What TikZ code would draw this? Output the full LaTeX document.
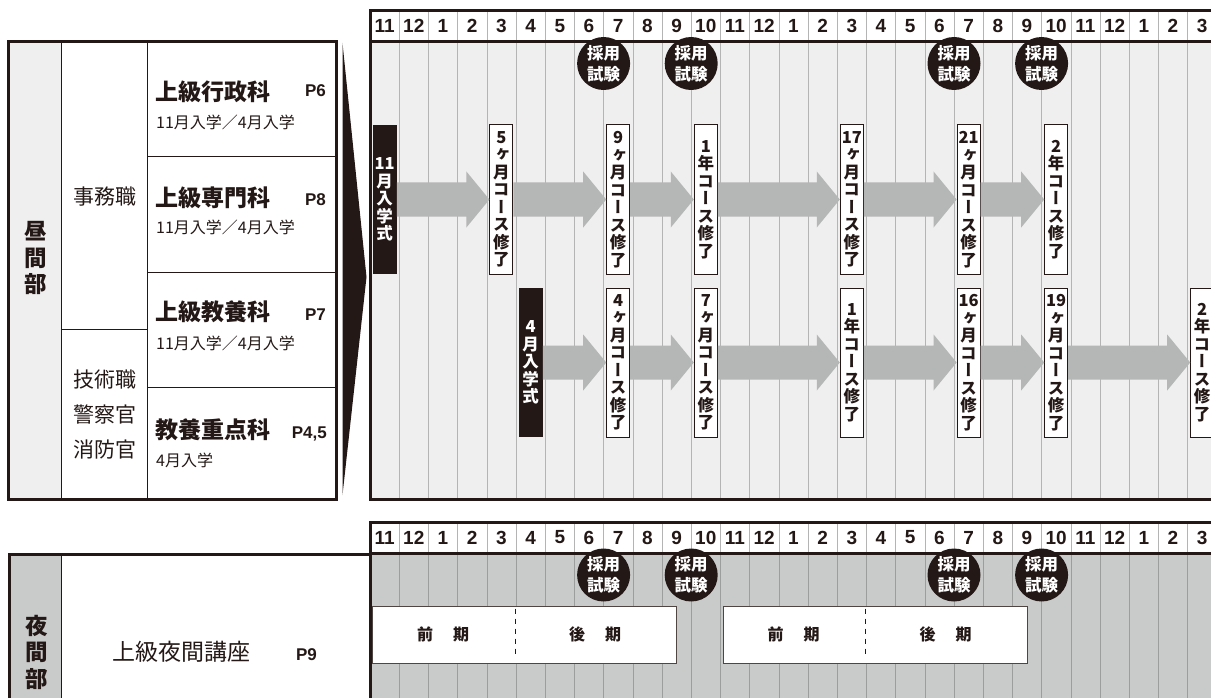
\documentclass[tikz,border=0pt]{standalone}
\usepackage{fontspec}
\setmainfont{Liberation Sans}
\newfontfamily\jp{Noto Sans CJK JP}
\newfontfamily\jpv[RawFeature=+vert]{Noto Sans CJK JP}
\usetikzlibrary{positioning,calc}

\definecolor{ink}{HTML}{231815}
\definecolor{daygray}{HTML}{EFEFEF}
\definecolor{nightgray}{HTML}{C9CACA}
\definecolor{arrowgray}{HTML}{B5B6B6}
\definecolor{rulegray}{HTML}{B4B4B4}
\definecolor{nightrule}{HTML}{9C9D9D}

\newcommand{\months}{11,12,1,2,3,4,5,6,7,8,9,10,11,12,1,2,3,4,5,6,7,8,9,10,11,12,1,2,3}

\begin{document}
\begin{tikzpicture}[x=1pt, y=-1pt,
  month/.style={inner sep=0, text=ink, font=\bfseries\fontsize{19}{19}\selectfont},
  start/.style={fill=ink, text=white, minimum width=24, minimum height=149, inner sep=0, align=center, font=\jpv\bfseries\fontsize{16.5}{17.5}\selectfont},
  done/.style={start, fill=white, text=ink, draw=ink, line width=1, minimum width=23},
  exam/.style={circle, fill=ink, text=white, minimum size=53, inner sep=0, align=center, font=\jp\bfseries\fontsize{16.5}{21}\selectfont},
  course/.style={anchor=west, inner sep=0, text=ink, font=\jp\bfseries\fontsize{23}{23}\selectfont},
  page/.style={anchor=base east, inner sep=0, text=ink, font=\bfseries\fontsize{17}{17}\selectfont},
  entry/.style={anchor=west, inner sep=0, text=ink, font=\jp\fontsize{16}{16}\selectfont},
  job/.style={inner sep=0, text=ink, align=center, font=\jp\fontsize{21}{35}\selectfont},
  section/.style={inner sep=0, text=ink, align=center, font=\jp\bfseries\fontsize{22.5}{26.5}\selectfont},
  term/.style={fill=white, draw=ink!80, line width=1, minimum width=304, minimum height=57, inner sep=0},
  half/.style={inner sep=0, text=ink, font=\jp\bfseries\fontsize{16}{16}\selectfont},
  blockarrow/.style={fill=arrowgray, to path={let \p1=(\tikztostart), \p2=(\tikztotarget) in
    (\x1,\y1+17pt) -- (\x2-23pt,\y1+17pt) -- (\x2-23pt,\y1+28pt) -- (\x2,\y2)
    -- (\x2-23pt,\y1-28pt) -- (\x2-23pt,\y1-17pt) -- (\x1,\y1-17pt) -- cycle}}]
  \useasboundingbox (0,0) rectangle (1211,698);
  \clip (0,0) rectangle (1211,698);

  % chart backgrounds and month columns
  \fill[daygray] (370,42) rectangle (1230,499.5);
  \fill[nightgray] (370,553) rectangle (1230,700);
  \foreach \m [count=\i from 0] in \months {
    \draw[rulegray] ({370+29.2*\i},10) -- ({370+29.2*\i},499.5);
    \draw[rulegray] ({370+29.2*\i},522) -- ({370+29.2*\i},553);
    \draw[nightrule] ({370+29.2*\i},553) -- ({370+29.2*\i},700);
    \node[month] (top\i) at ({384.6+29.2*\i},26) {\m};
    \node[month] (bot\i) at ({384.6+29.2*\i},537.5) {\m};
  }

  % day table
  \fill[daygray] (8.5,42) rectangle (61,499.5);
  \draw[ink, line width=1] (61,42) -- (61,499.5) (147,42) -- (147,499.5)
    (147,157) -- (336,157) (147,272) -- (336,272) (147,387) -- (336,387) (61,329) -- (147,329);
  \draw[ink, line width=3] (8.5,42) rectangle (336,499.5);
  \fill[ink] (342.5,43) -- (366.5,277) -- (342.5,495) -- cycle;

  \node[section] (day) at (36,258) {昼\\間\\部};
  \node[job] (clerk) at (105,197) {事務職};
  \node[job] (tech) at (105,415) {技術職\\警察官\\消防官};
  \node[course] (gyosei) at (155,92) {上級行政科};
  \node[page] (p6) at (326,97) {P6};
  \node[entry] (gyosei-in) at (156,122) {11月入学／4月入学};
  \node[course] (senmon) at (155,197.5) {上級専門科};
  \node[page] (p8) at (326,205) {P8};
  \node[entry] (senmon-in) at (156,227) {11月入学／4月入学};
  \node[course] (kyoyo) at (155,312) {上級教養科};
  \node[page] (p7) at (326,320) {P7};
  \node[entry] (kyoyo-in) at (156,343) {11月入学／4月入学};
  \node[course] (juten) at (155,430) {教養重点科};
  \node[page] (p45) at (327,438) {P4,5};
  \node[entry] (juten-in) at (156,460.5) {4月入学};

  % night table
  \fill[nightgray] (9,554) rectangle (61,700);
  \draw[ink, line width=1] (61,554) -- (61,700);
  \draw[ink, line width=3] (9,700) -- (9,554) -- (370,554);
  \node[section] (night) at (37,652) {夜\\間\\部};
  \node[course, font=\jp\fontsize{23}{23}\selectfont] (yakan) at (112,652) {上級夜間講座};
  \node[page] (p9) at (317,660.5) {P9};

  % courses
  \node[start] (nov) at (384.6,199.5) {11\\月\\入\\学\\式};
  \node[done] (c5) at (501.4,199.5) {5\\ヶ\\月\\コ\\ー\\ス\\修\\了};
  \node[done] (c9) at (618.2,199.5) {9\\ヶ\\月\\コ\\ー\\ス\\修\\了};
  \node[done] (c12) at (705.8,199.5) {1\\年\\コ\\ー\\ス\\修\\了};
  \node[done] (c17) at (851.8,199.5) {17\\ヶ\\月\\コ\\ー\\ス\\修\\了};
  \node[done] (c21) at (968.6,199.5) {21\\ヶ\\月\\コ\\ー\\ス\\修\\了};
  \node[done] (c24) at (1056.2,199.5) {2\\年\\コ\\ー\\ス\\修\\了};
  \node[start] (apr) at (530.6,362.5) {4\\月\\入\\学\\式};
  \node[done] (d4) at (618.2,362.5) {4\\ヶ\\月\\コ\\ー\\ス\\修\\了};
  \node[done] (d7) at (705.8,362.5) {7\\ヶ\\月\\コ\\ー\\ス\\修\\了};
  \node[done] (d12) at (851.8,362.5) {1\\年\\コ\\ー\\ス\\修\\了};
  \node[done] (d16) at (968.6,362.5) {16\\ヶ\\月\\コ\\ー\\ス\\修\\了};
  \node[done] (d19) at (1056.2,362.5) {19\\ヶ\\月\\コ\\ー\\ス\\修\\了};
  \node[done] (d24) at (1202.2,362.5) {2\\年\\コ\\ー\\ス\\修\\了};
  \foreach \a/\b in {nov/c5, c5/c9, c9/c12, c12/c17, c17/c21, c21/c24,
                     apr/d4, d4/d7, d7/d12, d12/d16, d16/d19, d19/d24}
    \path[blockarrow] (\a.east) to (\b.west);

  % evening terms
  \node[term] (term1) at (524.7,634.5) {};
  \node[term] (term2) at (875.2,634.5) {};
  \foreach \t in {term1, term2} {
    \draw[ink, line width=1.2, dash pattern=on 5pt off 5pt] ($(\t.north west)+(143,3)$) -- ($(\t.south west)+(143,-6)$);
    \node[half] (\t-zen) at ($(\t.west)+(71,0)$) {前\hspace{20pt}期};
    \node[half] (\t-go) at ($(\t.west)+(223,0)$) {後\hspace{20pt}期};
  }

  % chart frames
  \draw[ink, line width=3] (1230,10.5) -- (370,10.5) -- (370,499.5) -- (1230,499.5);
  \draw[ink, line width=3] (370,42) -- (1230,42);
  \draw[ink, line width=3] (1230,522) -- (370,522) -- (370,700);
  \draw[ink, line width=3] (370,553.5) -- (1230,553.5);

  % exams
  \foreach \x [count=\k] in {603.6, 691.2, 954, 1041.6} {
    \node[exam] (examday\k) at (\x,63.5) {採用\\試験};
    \node[exam] (examnight\k) at (\x,575) {採用\\試験};
  }
\end{tikzpicture}
\end{document}
